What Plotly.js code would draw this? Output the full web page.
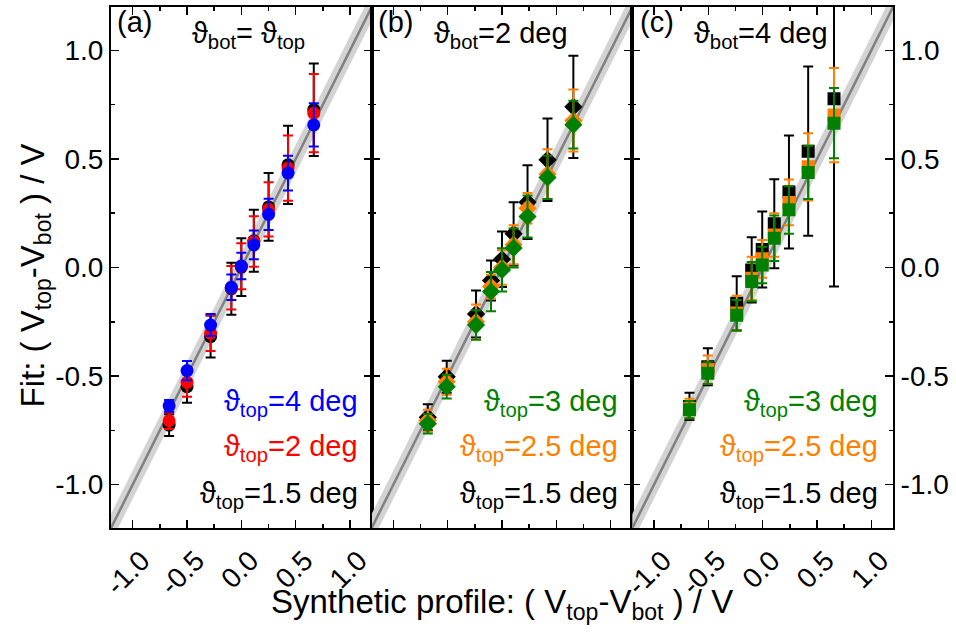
<!DOCTYPE html>
<html>
<head>
<meta charset="utf-8">
<script src="https://cdn.plot.ly/plotly-3.0.1.min.js"></script>
<style>
html,body{margin:0;padding:0;background:#fff;}
#chart{width:956px;height:633px;}
</style>
</head>
<body>
<div id="chart"></div>
<script>
// ---------- data ----------
const tickVals = [-1.0, -0.5, 0.0, 0.5, 1.0];
const tickText = ['-1.0', '-0.5', '0.0', '0.5', '1.0'];
const minorVals = [-0.75, -0.25, 0.25, 0.75];

// panel (a): theta_bot = theta_top
const xA = [-0.665, -0.50, -0.283, -0.092, 0.0, 0.115, 0.251, 0.43, 0.667];
const aBlack = [-0.726, -0.549, -0.318, -0.098, 0.002, 0.123, 0.279, 0.473, 0.727];
const aBlackErr = [0.05, 0.074, 0.097, 0.12, 0.133, 0.143, 0.156, 0.18, 0.213];
const aRed = [-0.706, -0.529, -0.303, -0.093, 0.006, 0.12, 0.268, 0.458, 0.711];
const aRedErr = [0.038, 0.066, 0.082, 0.1, 0.106, 0.116, 0.125, 0.15, 0.18];
const aBlue = [-0.637, -0.475, -0.265, -0.091, 0.007, 0.104, 0.245, 0.435, 0.657];
const aBlueErr = [0.027, 0.044, 0.051, 0.059, 0.061, 0.066, 0.072, 0.08, 0.1];

// panel (b): theta_bot = 2 deg
const xB = [-0.683, -0.509, -0.239, -0.101, 0.0, 0.107, 0.235, 0.419, 0.657];
const bBlack = [-0.69, -0.503, -0.214, -0.06, 0.038, 0.155, 0.301, 0.496, 0.74];
const bBlackErr = [0.06, 0.074, 0.108, 0.092, 0.128, 0.146, 0.17, 0.19, 0.236];
const bOrange = [-0.705, -0.526, -0.25, -0.088, 0.0, 0.105, 0.273, 0.43, 0.677];
const bOrangeErr = [0.05, 0.06, 0.08, 0.055, 0.08, 0.09, 0.07, 0.115, 0.143];
const bGreen = [-0.72, -0.549, -0.265, -0.111, -0.011, 0.09, 0.235, 0.415, 0.658];
const bGreenErr = [0.045, 0.055, 0.068, 0.09, 0.1, 0.09, 0.097, 0.1, 0.11];

// panel (c): theta_bot = 4 deg
const xC = [-0.674, -0.505, -0.239, -0.101, -0.004, 0.107, 0.242, 0.419, 0.657];
const cBlack = [-0.64, -0.457, -0.165, -0.011, 0.083, 0.202, 0.348, 0.536, 0.777];
const cBlackErr = [0.063, 0.085, 0.125, 0.15, 0.175, 0.205, 0.26, 0.39, 0.865];
const cOrange = [-0.65, -0.47, -0.21, -0.05, 0.04, 0.15, 0.30, 0.464, 0.702];
const cOrangeErr = [0.045, 0.065, 0.08, 0.1, 0.087, 0.1, 0.105, 0.155, 0.217];
const cGreen = [-0.655, -0.487, -0.22, -0.065, 0.012, 0.135, 0.266, 0.438, 0.665];
const cGreenErr = [0.04, 0.05, 0.07, 0.09, 0.084, 0.105, 0.11, 0.123, 0.162];

// reference line y = x with tolerance band
const refX = [-1.4, 1.4];
const bandHalf = 0.065;

// ---------- styling ----------
const FONT = 'Liberation Sans, Arial, sans-serif';
const BLACK = '#000000', RED = '#ff0000', BLUE = '#0000ff', ORANGE = '#ff8000', GREEN = '#008000';

const traces = [];
function addRef(xa, ya) {
  traces.push({
    x: [refX[0], refX[1], refX[1], refX[0]],
    y: [refX[0] - bandHalf, refX[1] - bandHalf, refX[1] + bandHalf, refX[0] + bandHalf],
    xaxis: xa, yaxis: ya, mode: 'lines', fill: 'toself',
    fillcolor: '#d3d3d3', line: {width: 0}, hoverinfo: 'skip', showlegend: false
  });
  traces.push({
    x: refX, y: refX, xaxis: xa, yaxis: ya, mode: 'lines',
    line: {color: '#808080', width: 2.5}, hoverinfo: 'skip', showlegend: false
  });
}
function addSeries(xa, ya, x, y, err, color, symbol, size) {
  traces.push({
    x: x, y: y, xaxis: xa, yaxis: ya, mode: 'markers',
    marker: {color: color, symbol: symbol, size: size, line: {width: 0}},
    error_y: {type: 'data', array: err, visible: true, color: color, thickness: 2, width: 5},
    showlegend: false, cliponaxis: true
  });
}

addRef('x', 'y');
addSeries('x', 'y', xA, aBlack, aBlackErr, BLACK, 'circle', 13);
addSeries('x', 'y', xA, aRed, aRedErr, RED, 'circle', 13);
addSeries('x', 'y', xA, aBlue, aBlueErr, BLUE, 'circle', 13);

addRef('x2', 'y2');
addSeries('x2', 'y2', xB, bBlack, bBlackErr, BLACK, 'diamond', 14);
addSeries('x2', 'y2', xB, bOrange, bOrangeErr, ORANGE, 'diamond', 14);
addSeries('x2', 'y2', xB, bGreen, bGreenErr, GREEN, 'diamond', 14);

addRef('x3', 'y3');
addSeries('x3', 'y3', xC, cBlack, cBlackErr, BLACK, 'square', 13);
addSeries('x3', 'y3', xC, cOrange, cOrangeErr, ORANGE, 'square', 13);
addSeries('x3', 'y3', xC, cGreen, cGreenErr, GREEN, 'square', 13);

function xAxis(domain, showLabels) {
  return {
    domain: domain, range: [-1.2, 1.2], showgrid: false, zeroline: false,
    showline: true, linecolor: BLACK, linewidth: 2, mirror: 'ticks',
    ticks: 'inside', ticklen: 8, tickwidth: 1.5, tickcolor: BLACK,
    tickvals: tickVals, ticktext: tickText, showticklabels: showLabels,
    tickangle: -45, ticklabelshift: 9, ticklabelstandoff: 3,
    tickfont: {family: FONT, size: 28, color: BLACK},
    minor: {tickvals: minorVals, ticks: 'inside', ticklen: 4, tickwidth: 1.5, tickcolor: BLACK}
  };
}
function yAxis(anchor, showLabels, side) {
  return {
    anchor: anchor, range: [-1.2, 1.2], showgrid: false, zeroline: false,
    showline: true, linecolor: BLACK, linewidth: 2, mirror: 'ticks',
    ticks: 'inside', ticklen: 8, tickwidth: 1.5, tickcolor: BLACK,
    tickvals: tickVals, ticktext: tickText, showticklabels: showLabels, side: side,
    tickfont: {family: FONT, size: 28, color: BLACK},
    minor: {tickvals: minorVals, ticks: 'inside', ticklen: 4, tickwidth: 1.5, tickcolor: BLACK}
  };
}

const th = '\u03D1';
function ann(xref, yref, x, y, text, color, xanchor) {
  return {xref: xref, yref: yref, x: x, y: y, text: text, showarrow: false,
    xanchor: xanchor, yanchor: 'middle', font: {family: FONT, size: 29, color: color}};
}
const annotations = [
  ann('x domain', 'y domain', 0.015, 0.971, '(a)', BLACK, 'left'),
  ann('x domain', 'y domain', 0.303, 0.946, th + '<sub>bot</sub>= ' + th + '<sub>top</sub>', BLACK, 'left'),
  ann('x domain', 'y domain', 0.954, 0.24, th + '<sub>top</sub>=4 deg', BLUE, 'right'),
  ann('x domain', 'y domain', 0.954, 0.153, th + '<sub>top</sub>=2 deg', RED, 'right'),
  ann('x domain', 'y domain', 0.954, 0.063, th + '<sub>top</sub>=1.5 deg', BLACK, 'right'),

  ann('x2 domain', 'y2 domain', 0.015, 0.971, '(b)', BLACK, 'left'),
  ann('x2 domain', 'y2 domain', 0.23, 0.946, th + '<sub>bot</sub>=2 deg', BLACK, 'left'),
  ann('x2 domain', 'y2 domain', 0.954, 0.24, th + '<sub>top</sub>=3 deg', GREEN, 'right'),
  ann('x2 domain', 'y2 domain', 0.954, 0.153, th + '<sub>top</sub>=2.5 deg', ORANGE, 'right'),
  ann('x2 domain', 'y2 domain', 0.954, 0.063, th + '<sub>top</sub>=1.5 deg', BLACK, 'right'),

  ann('x3 domain', 'y3 domain', 0.02, 0.971, '(c)', BLACK, 'left'),
  ann('x3 domain', 'y3 domain', 0.23, 0.946, th + '<sub>bot</sub>=4 deg', BLACK, 'left'),
  ann('x3 domain', 'y3 domain', 0.95, 0.24, th + '<sub>top</sub>=3 deg', GREEN, 'right'),
  ann('x3 domain', 'y3 domain', 0.95, 0.153, th + '<sub>top</sub>=2.5 deg', ORANGE, 'right'),
  ann('x3 domain', 'y3 domain', 0.95, 0.063, th + '<sub>top</sub>=1.5 deg', BLACK, 'right'),

  {xref: 'paper', yref: 'paper', x: 0.5, y: -0.145, xanchor: 'center', yanchor: 'middle',
   text: 'Synthetic profile: ( V<sub>top</sub>-V<sub>bot</sub> ) / V', showarrow: false,
   font: {family: FONT, size: 33, color: BLACK}},
  {xref: 'paper', yref: 'paper', x: -0.097, y: 0.485, xanchor: 'center', yanchor: 'middle', textangle: -90,
   text: 'Fit: ( V<sub>top</sub>-V<sub>bot</sub> ) / V', showarrow: false,
   font: {family: FONT, size: 33, color: BLACK}}
];

const layout = {
  width: 956, height: 633,
  margin: {l: 111, r: 63, t: 7, b: 105, pad: 0},
  paper_bgcolor: '#ffffff', plot_bgcolor: '#ffffff',
  showlegend: false,
  font: {family: FONT, color: BLACK},
  xaxis: xAxis([0, 1/3], true),
  xaxis2: xAxis([1/3, 2/3], false),
  xaxis3: xAxis([2/3, 1], true),
  yaxis: yAxis('x', true, 'left'),
  yaxis2: yAxis('x2', false, 'left'),
  yaxis3: yAxis('x3', true, 'right'),
  annotations: annotations
};

Plotly.newPlot('chart', traces, layout, {displayModeBar: false, staticPlot: true});
</script>
</body>
</html>
